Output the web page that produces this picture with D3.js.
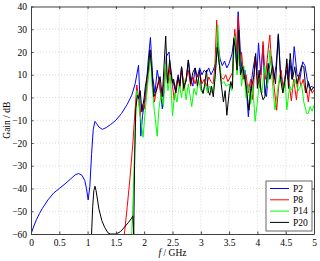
<!DOCTYPE html>
<html>
<head>
<meta charset="utf-8">
<script src="https://cdn.jsdelivr.net/npm/d3@7"></script>
<style>
  body { margin: 0; background: #fff; }
  svg { display: block; }
</style>
</head>
<body>
<svg id="chart" width="320" height="261"></svg>
<script>
// axis ticks
const xTicks = [0, 0.5, 1, 1.5, 2, 2.5, 3, 3.5, 4, 4.5, 5];
const yTicks = [-60, -50, -40, -30, -20, -10, 0, 10, 20, 30, 40];

// series names and colours
const seriesNames = ['P2', 'P8', 'P14', 'P20'];
const seriesColors = ['#0000ff', '#ff0000', '#00ff00', '#000000'];

// [f (GHz), gain (dB)]
const p2 = [[0,-60],[0.05,-56.5],[0.1,-53.5],[0.15,-51],[0.2,-48.8],[0.3,-45],[0.4,-42],[0.5,-40],[0.6,-38],[0.7,-35.8],[0.78,-34],[0.84,-33.4],[0.9,-34.2],[0.95,-36.5],[0.98,-40],[1.01,-45],[1.04,-39],[1.07,-25],[1.1,-14],[1.13,-10.5],[1.16,-11.5],[1.2,-13],[1.26,-14],[1.33,-13.2],[1.4,-12],[1.5,-10],[1.6,-7],[1.7,-3],[1.78,1],[1.84,6],[1.9,14.2],[1.92,2],[1.94,-17],[1.97,-8],[2.0,-3],[2.04,6],[2.07,16],[2.11,26.4],[2.15,9],[2.19,2],[2.23,12],[2.28,5],[2.32,-5],[2.36,6],[2.39,18],[2.44,20],[2.47,9],[2.51,7],[2.55,3],[2.6,10],[2.63,6],[2.66,13.5],[2.7,5],[2.74,7],[2.78,16.5],[2.82,8],[2.86,5],[2.9,13],[2.94,9],[2.98,13],[3.02,10],[3.06,12],[3.1,11],[3.14,13],[3.18,10],[3.22,12],[3.26,15],[3.3,24.6],[3.34,17],[3.38,14],[3.42,16],[3.46,13],[3.5,15],[3.55,19],[3.6,28],[3.63,15],[3.66,37.7],[3.7,20],[3.74,8],[3.78,12],[3.81,2],[3.84,-8.5],[3.88,4],[3.92,12],[3.96,18],[3.99,10],[4.02,24],[4.06,10],[4.1,23],[4.13,2],[4.16,0.4],[4.2,12],[4.25,18],[4.29,8],[4.33,14],[4.37,28],[4.41,10],[4.46,5],[4.51,12],[4.54,8],[4.57,16.5],[4.61,8],[4.65,22.4],[4.7,10],[4.75,8],[4.8,15.7],[4.84,14],[4.88,8],[4.92,4],[4.96,5],[5.0,4]];

const p8 = [[1.65,-60],[1.7,-48],[1.75,-35],[1.8,-20],[1.84,-5],[1.87,5.5],[1.9,0],[1.93,-8],[1.96,-3],[2.0,-5],[2.04,3],[2.08,12],[2.11,21],[2.14,8],[2.18,-2],[2.22,4],[2.26,8],[2.3,-1],[2.34,5],[2.38,15],[2.42,6],[2.46,14],[2.5,5],[2.53,-1],[2.57,6],[2.6,9],[2.63,4],[2.66,13],[2.7,3],[2.74,8],[2.78,12],[2.82,5],[2.86,9],[2.9,6],[2.94,10],[2.98,11],[3.02,6],[3.06,8],[3.1,5],[3.14,9],[3.18,7],[3.22,6],[3.25,14],[3.28,34],[3.32,16],[3.36,9],[3.4,8],[3.44,10],[3.48,7],[3.52,9],[3.56,11],[3.6,30],[3.63,20],[3.66,35.6],[3.69,14],[3.72,20],[3.76,8],[3.8,10],[3.84,2],[3.88,8],[3.92,-1],[3.96,18],[4.0,8],[4.05,4],[4.1,24.6],[4.14,8],[4.19,21],[4.22,27.5],[4.25,15],[4.29,6],[4.34,-5.6],[4.38,6],[4.42,12],[4.46,3],[4.52,15],[4.56,6],[4.6,-1.5],[4.64,8],[4.69,-1],[4.73,10],[4.77,5],[4.81,8],[4.85,2],[4.87,3.2],[4.9,-2],[4.93,4.5],[4.97,1.9],[5.0,3.3]];

const p14 = [[1.78,-60],[1.81,-40],[1.84,-15],[1.87,3],[1.9,-2],[1.93,-8],[1.98,-17.5],[2.01,-8],[2.04,0],[2.08,10],[2.11,20],[2.14,5],[2.18,-6],[2.23,-17],[2.26,-5],[2.3,2],[2.34,-4],[2.38,15],[2.42,3],[2.46,10],[2.5,-8],[2.54,2],[2.58,-2],[2.62,6],[2.66,0],[2.7,8],[2.74,-1],[2.78,6],[2.84,-4],[2.88,4],[2.92,1],[2.96,8],[3.0,3],[3.04,1.8],[3.08,6],[3.12,2],[3.16,5],[3.2,2],[3.23,5],[3.26,12],[3.3,32],[3.33,16],[3.37,6],[3.41,7],[3.45,5],[3.5,6],[3.55,3],[3.6,27],[3.64,10],[3.68,22],[3.72,5],[3.76,14],[3.8,0],[3.84,6],[3.88,-3],[3.92,5],[3.96,-10.5],[4.0,-2],[4.04,8],[4.08,2],[4.13,14],[4.18,5],[4.22,20.9],[4.27,5],[4.31,-5.4],[4.36,4],[4.4,10],[4.45,2],[4.49,8],[4.52,-5.4],[4.57,5],[4.61,3.3],[4.66,8],[4.72,3],[4.78,6],[4.82,-2],[4.87,-7],[4.9,-7],[4.93,-4],[4.97,-6],[5.0,-3.4]];

const p20 = [[1.07,-60],[1.09,-48],[1.11,-41],[1.13,-39],[1.15,-41],[1.2,-49],[1.25,-54],[1.3,-57],[1.36,-59.5],[1.4,-60],[1.5,-60],[1.58,-59],[1.65,-57],[1.72,-55],[1.78,-53],[1.8,-52],[1.815,-60],[1.83,-30],[1.85,-5],[1.88,1],[1.9,-0.4],[1.93,3],[1.96,-6.3],[2.0,0],[2.02,4.8],[2.07,12],[2.1,20.9],[2.13,13.6],[2.17,0.4],[2.22,3.3],[2.28,9.2],[2.32,0.4],[2.38,27],[2.41,6.3],[2.45,16.5],[2.5,6.3],[2.52,8],[2.56,2],[2.6,9],[2.63,5],[2.66,13.5],[2.7,4],[2.74,8],[2.78,16.5],[2.82,6],[2.86,11],[2.9,13],[2.94,5],[2.98,12],[3.01,4],[3.04,1.8],[3.07,6],[3.1,12],[3.13,3],[3.16,1],[3.19,5],[3.22,0.3],[3.25,8],[3.29,22],[3.33,14],[3.36,6],[3.4,-2],[3.43,3],[3.46,-7.8],[3.5,2],[3.53,7],[3.56,4],[3.58,26],[3.61,22],[3.64,12],[3.67,29.7],[3.7,10],[3.74,13.5],[3.78,8],[3.81,3],[3.85,-5.6],[3.88,2],[3.91,6],[3.94,10],[3.97,19.4],[4.0,4],[4.03,12],[4.06,3],[4.1,-1],[4.13,0.3],[4.16,6],[4.19,15],[4.22,8],[4.27,14],[4.32,6],[4.37,27.5],[4.41,8],[4.45,2],[4.49,8],[4.52,17],[4.55,4],[4.58,19.4],[4.62,8],[4.66,13.5],[4.7,6],[4.74,10],[4.78,14],[4.82,13.5],[4.86,2],[4.9,7],[4.95,3],[5.0,4.8]];

const allSeries = [p2, p8, p14, p20];

// layout
const plotL = 31, plotR = 314, plotT = 6.5, plotB = 234;
const FONT = '"Liberation Serif", "Times New Roman", serif';
const AXIS = '#404040';

const svg = d3.select('#chart');

const x = d3.scaleLinear().domain([0, 5]).range([plotL, plotR]);
const y = d3.scaleLinear().domain([-60, 40]).range([plotB, plotT]);

// grid
const grid = svg.append('g');
grid.selectAll('.gx')
    .data(xTicks.slice(1, -1))
    .join('line')
    .attr('x1', d => x(d)).attr('x2', d => x(d))
    .attr('y1', plotT).attr('y2', plotB)
    .attr('stroke', '#c8c8c8')
    .attr('stroke-width', 0.7)
    .style('stroke-dasharray', '1,2');
grid.selectAll('.gy')
    .data(yTicks.slice(1, -1))
    .join('line')
    .attr('x1', plotL).attr('x2', plotR)
    .attr('y1', d => y(d)).attr('y2', d => y(d))
    .attr('stroke', '#c8c8c8')
    .attr('stroke-width', 0.7)
    .style('stroke-dasharray', '1,2');

// the curves, clipped to the axes box
svg.append('clipPath').attr('id', 'clip')
    .append('rect')
    .attr('x', plotL).attr('y', plotT)
    .attr('width', plotR - plotL).attr('height', plotB - plotT);

const line = d3.line().x(d => x(d[0])).y(d => y(d[1]));

svg.append('g')
    .attr('clip-path', 'url(#clip)')
    .selectAll('path')
    .data(allSeries)
    .join('path')
    .attr('d', line)
    .attr('fill', 'none')
    .attr('stroke', (d, i) => seriesColors[i])
    .attr('stroke-width', 1)
    .attr('stroke-linejoin', 'round');

// axes: bottom/left with labels, top/right mirrored ticks (inward)
const axB = d3.axisBottom(x).tickValues(xTicks).tickSizeInner(-2.5).tickSizeOuter(0).tickPadding(5)
    .tickFormat(d3.format('~g'));
const axT = d3.axisTop(x).tickValues(xTicks).tickSizeInner(-2.5).tickSizeOuter(0).tickFormat('');
const axL = d3.axisLeft(y).tickValues(yTicks).tickSizeInner(-2.5).tickSizeOuter(0).tickPadding(4);
const axR = d3.axisRight(y).tickValues(yTicks).tickSizeInner(-2.5).tickSizeOuter(0).tickFormat('');

function styleAxis(g) {
    g.select('.domain').attr('stroke', AXIS);
    g.selectAll('.tick line').attr('stroke', AXIS);
    g.selectAll('text')
        .attr('fill', '#000')
        .style('font-family', FONT)
        .style('font-size', '9.5px');
}

svg.append('g').attr('transform', `translate(0,${plotB})`).call(axB).call(styleAxis);
svg.append('g').attr('transform', `translate(0,${plotT})`).call(axT).call(styleAxis);
svg.append('g').attr('transform', `translate(${plotL},0)`).call(axL).call(styleAxis);
svg.append('g').attr('transform', `translate(${plotR},0)`).call(axR).call(styleAxis);

// axis titles
const xt = svg.append('text')
    .attr('x', (plotL + plotR) / 2)
    .attr('y', 256)
    .attr('text-anchor', 'middle')
    .style('font-family', FONT)
    .style('font-size', '9.5px');
xt.append('tspan').style('font-style', 'italic').text('f');
xt.append('tspan').text(' / GHz');

svg.append('text')
    .attr('transform', `translate(10,${(plotT + plotB) / 2}) rotate(-90)`)
    .attr('text-anchor', 'middle')
    .style('font-family', FONT)
    .style('font-size', '9.5px')
    .text('Gain / dB');

// legend
const lg = svg.append('g').attr('transform', 'translate(266,181)');
lg.append('rect')
    .attr('width', 46).attr('height', 50)
    .attr('fill', '#fff')
    .attr('stroke', AXIS)
    .attr('stroke-width', 0.8);
const item = lg.selectAll('.item')
    .data(seriesNames)
    .join('g')
    .attr('transform', (d, i) => `translate(0,${7.5 + i * 11.3})`);
item.append('line')
    .attr('x1', 4).attr('x2', 23)
    .attr('stroke', (d, i) => seriesColors[i])
    .attr('stroke-width', 1);
item.append('text')
    .attr('x', 27)
    .attr('dy', '0.33em')
    .style('font-family', FONT)
    .style('font-size', '9.5px')
    .text(d => d);
</script>
</body>
</html>
